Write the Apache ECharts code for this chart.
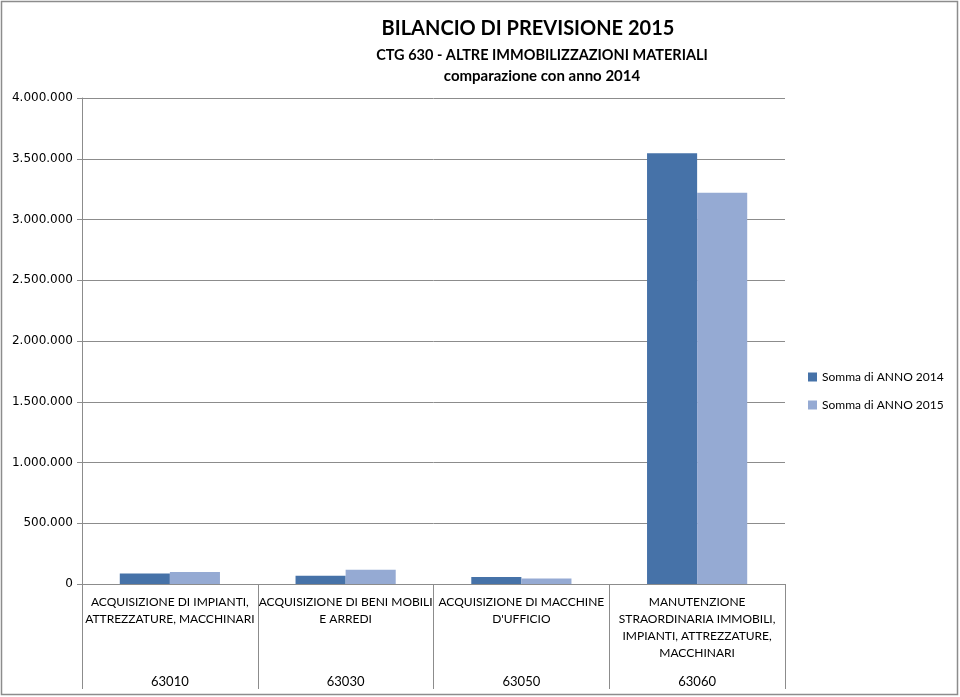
<!DOCTYPE html>
<html lang="it">
<head>
<meta charset="UTF-8">
<title>Bilancio di previsione 2015</title>
<script src="https://cdn.jsdelivr.net/npm/echarts@6/dist/echarts.min.js"></script>
<style>
    * { margin: 0; padding: 0; }
    html, body { width: 100%; height: 100%; background: #fff; }
    #main { width: 960px; height: 697px; }
</style>
</head>
<body>
<div id="main"></div>
<script>
// dati
var categorie = [
    'ACQUISIZIONE DI IMPIANTI,\nATTREZZATURE, MACCHINARI',
    'ACQUISIZIONE DI BENI MOBILI\nE ARREDI',
    'ACQUISIZIONE DI MACCHINE\nD\'UFFICIO',
    'MANUTENZIONE\nSTRAORDINARIA IMMOBILI,\nIMPIANTI, ATTREZZATURE,\nMACCHINARI'
];
var codici = ['63010', '63030', '63050', '63060'];
var anno2014 = [87000, 68000, 57000, 3545000];
var anno2015 = [98000, 118000, 46000, 3220000];

var font = 'Lato, "Open Sans", sans-serif';

var fmt = function (v) {
    return String(v).replace(/\B(?=(\d{3})+(?!\d))/g, '.');
};

var chart = echarts.init(document.getElementById('main'));
chart.setOption({
    animation: false,
    graphic: [{
        type: 'rect',
        shape: { x: 1.5, y: 1.5, width: 956, height: 693 },
        style: { fill: 'none', stroke: '#8c8c8c', lineWidth: 1.5 }
    }],
    title: [
        { text: 'BILANCIO DI PREVISIONE 2015', left: 523, top: 14, textAlign: 'center',
          textStyle: { fontFamily: font, fontWeight: 'bold', fontSize: 20, color: '#000' } },
        { text: 'CTG 630 - ALTRE IMMOBILIZZAZIONI MATERIALI', left: 537, top: 43, textAlign: 'center',
          textStyle: { fontFamily: font, fontWeight: 'bold', fontSize: 14.5, color: '#000' } },
        { text: 'comparazione con anno 2014', left: 537, top: 64, textAlign: 'center',
          textStyle: { fontFamily: font, fontWeight: 'bold', fontSize: 15, color: '#000' } }
    ],
    legend: {
        orient: 'vertical',
        left: 803,
        top: 366,
        itemWidth: 9,
        itemHeight: 9,
        itemGap: 16,
        icon: 'rect',
        textStyle: { fontFamily: font, fontSize: 12, color: '#000' }
    },
    grid: { left: 82, right: 175, top: 98, bottom: 113, containLabel: false },
    xAxis: [{
        type: 'category',
        data: categorie,
        axisLine: { lineStyle: { color: '#8c8c8c', width: 1 } },
        axisTick: { show: true, interval: 0, length: 105, lineStyle: { color: '#8c8c8c' } },
        axisLabel: {
            interval: 0, margin: 10, fontFamily: font, fontSize: 12, color: '#000',
            lineHeight: 17, verticalAlign: 'top', overflow: 'none', hideOverlap: false
        }
    }, {
        type: 'category',
        position: 'bottom',
        data: codici,
        axisLine: { show: false },
        axisTick: { show: false },
        axisLabel: { interval: 0, margin: 91, fontFamily: font, fontSize: 13, color: '#000' }
    }],
    yAxis: {
        type: 'value',
        min: 0,
        max: 4000000,
        interval: 500000,
        axisLine: { show: true, lineStyle: { color: '#8c8c8c' } },
        axisTick: { show: true, length: 5, lineStyle: { color: '#8c8c8c' } },
        axisLabel: { fontFamily: '"DejaVu Sans", sans-serif', fontSize: 12, color: '#000', margin: 9, formatter: fmt },
        splitLine: { lineStyle: { color: '#8c8c8c', width: 1 } }
    },
    series: [{
        name: 'Somma di ANNO 2014',
        type: 'bar',
        data: anno2014,
        barGap: '0%',
        barCategoryGap: '43%',
        itemStyle: { color: '#4672a8' }
    }, {
        name: 'Somma di ANNO 2015',
        type: 'bar',
        data: anno2015,
        itemStyle: { color: '#95aad3' }
    }]
});
</script>
</body>
</html>
